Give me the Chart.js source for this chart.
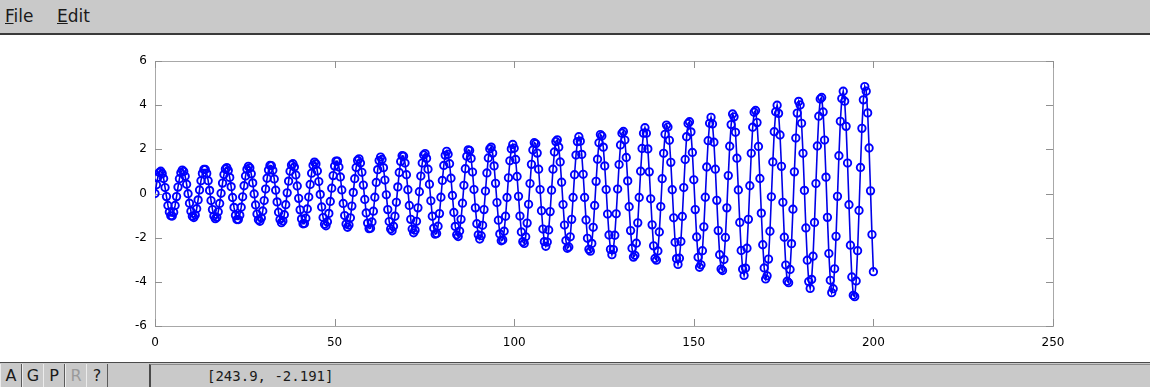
<!DOCTYPE html>
<html>
<head>
<meta charset="utf-8">
<script src="https://cdn.jsdelivr.net/npm/chart.js@4.4.0/dist/chart.umd.min.js"></script>
<style>
  html, body { margin: 0; padding: 0; }
  body {
    width: 1150px; height: 387px; position: relative; overflow: hidden;
    background: #fff; font-family: "DejaVu Sans", sans-serif;
  }
  #menubar {
    position: absolute; left: 0; top: 0; width: 1150px; height: 33px;
    background: #c9c9c9; border-bottom: 2px solid #3a3a3a;
  }
  .menu { position: absolute; top: 6px; font-size: 17px; color: #1a1a1a; }
  #plot { position: absolute; left: 0; top: 35px; width: 1150px; height: 327px; }
  #statusbar {
    position: absolute; left: 0; top: 362px; width: 1150px; height: 25px;
    background: #c9c9c9; border-top: 1px solid #4a4a4a; box-sizing: border-box;
  }
  .btn {
    position: absolute; top: 1px; height: 23px; width: 20px; text-align: center;
    font-size: 16px; line-height: 23px; color: #1a1a1a;
    border-left: 1px solid #ececec; border-right: 1px solid #5a5a5a;
  }
  .btn.off { color: #9a9a9a; }
  #coords {
    position: absolute; left: 149px; top: 1px; height: 23px; width: 1001px;
    border-left: 2px solid #4a4a4a; border-top: 1px solid #8a8a8a;
    font-family: "DejaVu Sans Mono", monospace; font-size: 14px; line-height: 23px;
    color: #1a1a1a; box-sizing: border-box; padding-left: 56px;
  }
</style>
</head>
<body>
<div id="menubar">
  <span class="menu" style="left:5px"><u>F</u>ile</span>
  <span class="menu" style="left:57px"><u>E</u>dit</span>
</div>
<div id="plot"><canvas id="chart" width="1150" height="327"></canvas></div>
<div id="statusbar">
  <div class="btn" style="left:0px">A</div>
  <div class="btn" style="left:22px">G</div>
  <div class="btn" style="left:43px">P</div>
  <div class="btn off" style="left:65px">R</div>
  <div class="btn" style="left:86px">?</div>
  <div id="coords">[243.9, -2.191]</div>
</div>
<script>
// sample spacing along x
const X_START = 0;
const X_STEP = 0.4;

// y value of every sample (501 samples, x = 0 .. 200)
const yValues = [
  0, 0.40, 0.74, 0.95, 1.01, 0.90, 0.68, 0.27, -0.14, -0.54, -0.84, -1.01, -1.02, -0.85, -0.54,
  -0.14, 0.29, 0.67, 0.94, 1.06, 1.00, 0.78, 0.42, -0.01, -0.44, -0.80, -1.03, -1.09, -0.97, -0.69,
  -0.29, 0.16, 0.58, 0.91, 1.09, 1.09, 0.91, 0.58, 0.14, -0.32, -0.73, -1.02, -1.14, -1.08, -0.83,
  -0.45, 0.01, 0.47, 0.86, 1.11, 1.17, 1.04, 0.73, 0.31, -0.18, -0.63, -0.99, -1.18, -1.18, -0.98,
  -0.62, -0.15, 0.35, 0.79, 1.10, 1.23, 1.16, 0.89, 0.48, -0.02, -0.52, -0.93, -1.19, -1.26, -1.11,
  -0.79, -0.32, 0.20, 0.69, 1.06, 1.27, 1.26, 1.05, 0.66, 0.15, -0.38, -0.85, -1.18, -1.32, -1.24,
  -0.96, -0.51, 0.03, 0.56, 1.01, 1.29, 1.35, 1.20, 0.84, 0.34, -0.22, -0.74, -1.15, -1.37, -1.36,
  -1.12, -0.70, -0.16, 0.41, 0.92, 1.28, 1.42, 1.34, 1.02, 0.54, -0.04, -0.61, -1.09, -1.39, -1.46,
  -1.28, -0.90, -0.36, 0.24, 0.81, 1.24, 1.47, 1.46, 1.20, 0.75, 0.16, -0.45, -1.00, -1.38, -1.53,
  -1.43, -1.10, -0.57, 0.05, 0.67, 1.18, 1.50, 1.57, 1.38, 0.96, 0.38, -0.27, -0.88, -1.34, -1.59,
  -1.57, -1.29, -0.80, -0.17, 0.50, 1.08, 1.49, 1.65, 1.54, 1.17, 0.61, -0.06, -0.73, -1.27, -1.61,
  -1.69, -1.48, -1.03, -0.40, 0.30, 0.95, 1.45, 1.71, 1.69, 1.38, 0.85, 0.17, -0.54, -1.17, -1.61,
  -1.78, -1.66, -1.26, -0.65, 0.08, 0.79, 1.38, 1.74, 1.81, 1.59, 1.10, 0.42, -0.33, -1.03, -1.57,
  -1.84, -1.81, -1.48, -0.91, -0.17, 0.59, 1.27, 1.73, 1.91, 1.78, 1.35, 0.69, -0.09, -0.86, -1.49,
  -1.87, -1.95, -1.70, -1.17, -0.44, 0.37, 1.12, 1.69, 1.98, 1.95, 1.59, 0.97, 0.18, -0.65, -1.37,
  -1.87, -2.06, -1.91, -1.44, -0.73, 0.11, 0.93, 1.61, 2.02, 2.10, 1.83, 1.25, 0.46, -0.41, -1.21,
  -1.83, -2.14, -2.10, -1.71, -1.03, -0.18, 0.71, 1.48, 2.02, 2.22, 2.05, 1.54, 0.77, -0.13, -1.02,
  -1.74, -2.18, -2.26, -1.96, -1.34, -0.49, 0.45, 1.32, 1.97, 2.30, 2.25, 1.83, 1.10, 0.18, -0.78,
  -1.61, -2.18, -2.39, -2.20, -1.65, -0.82, 0.15, 1.10, 1.88, 2.35, 2.43, 2.10, 1.43, 0.51, -0.50,
  -1.43, -2.13, -2.48, -2.42, -1.96, -1.17, -0.18, 0.85, 1.74, 2.35, 2.57, 2.37, 1.77, 0.87, -0.18,
  -1.20, -2.03, -2.53, -2.61, -2.26, -1.53, -0.54, 0.55, 1.55, 2.30, 2.67, 2.60, 2.10, 1.25, 0.18,
  -0.93, -1.88, -2.53, -2.77, -2.54, -1.89, -0.92, 0.20, 1.31, 2.20, 2.73, 2.81, 2.42, 1.63, 0.57,
  -0.60, -1.68, -2.48, -2.88, -2.80, -2.25, -1.33, -0.18, 1.01, 2.04, 2.73, 2.98, 2.73, 2.02, 0.98,
  -0.24, -1.42, -2.37, -2.94, -3.02, -2.60, -1.74, -0.59, 0.67, 1.82, 2.68, 3.10, 3.01, 2.41, 1.41,
  0.17, -1.10, -2.21, -2.95, -3.21, -2.93, -2.17, -1.04, 0.27, 1.54, 2.57, 3.17, 3.25, 2.79, 1.86,
  0.62, -0.73, -1.97, -2.89, -3.34, -3.23, -2.59, -1.51, -0.17, 1.20, 2.39, 3.18, 3.45, 3.15, 2.32,
  1.10, -0.31, -1.68, -2.77, -3.42, -3.49, -2.99, -1.99, -0.65, 0.81, 2.14, 3.12, 3.60, 3.47, 2.77,
  1.60, 0.16, -1.31, -2.58, -3.43, -3.71, -3.38, -2.48, -1.17, 0.35, 1.82, 3.00, 3.68, 3.76, 3.21,
  2.13, 0.68, -0.89, -2.32, -3.37, -3.87, -3.73, -2.97, -1.71, -0.15, 1.43, 2.80, 3.70, 4.00, 3.63,
  2.65, 1.23, -0.40, -1.98, -3.24, -3.97, -4.04, -3.44, -2.27, -0.71, 0.98, 2.51, 3.64, 4.17, 4.01,
  3.18, 1.82, 0.14, -1.56, -3.02, -3.99, -4.30, -3.89, -2.84, -1.31, 0.45, 2.15, 3.50, 4.28, 4.35,
  3.69, 2.42, 0.74, -1.08, -2.72, -3.93, -4.49, -4.31, -3.41, -1.94, -0.13, 1.71, 3.27, 4.30, 4.63,
  4.18, 3.04, 1.38, -0.51, -2.34, -3.78, -4.61, -4.67, -3.96, -2.59, -0.77, 1.18, 2.95, 4.24, 4.84,
  4.63, 3.65, 2.06, 0.12, -1.86, -3.54
];

// axis ticks
const xTicks = [0, 50, 100, 150, 200, 250];
const yTicks = [-6, -4, -2, 0, 2, 4, 6];

const TICK_LEN = 7;

// box around the axes with inward tick marks on all four sides
const framePlugin = {
  id: 'frame',
  beforeDatasetsDraw(chart) {
    const { ctx, chartArea: a, scales: { x, y } } = chart;
    ctx.save();
    ctx.strokeStyle = '#a8a8a8';
    ctx.lineWidth = 1;
    ctx.strokeRect(a.left + 0.5, a.top + 0.5, a.right - a.left, a.bottom - a.top);
    ctx.strokeStyle = '#909090';
    ctx.beginPath();
    xTicks.forEach(v => {
      const px = Math.round(x.getPixelForValue(v)) + 0.5;
      ctx.moveTo(px, a.bottom); ctx.lineTo(px, a.bottom - TICK_LEN);
      ctx.moveTo(px, a.top); ctx.lineTo(px, a.top + TICK_LEN);
    });
    yTicks.forEach(v => {
      const py = Math.round(y.getPixelForValue(v)) + 0.5;
      ctx.moveTo(a.left, py); ctx.lineTo(a.left + TICK_LEN, py);
      ctx.moveTo(a.right, py); ctx.lineTo(a.right - TICK_LEN, py);
    });
    ctx.stroke();
    ctx.restore();
  }
};

const points = yValues.map((v, i) => ({ x: X_START + i * X_STEP, y: v }));

const tickFont = { family: '"DejaVu Sans", sans-serif', size: 12 };

new Chart(document.getElementById('chart'), {
  type: 'scatter',
  data: {
    datasets: [{
      data: points,
      showLine: true,
      borderColor: '#0000e8',
      borderWidth: 1.6,
      pointRadius: 3.7,
      pointStyle: 'circle',
      pointBorderColor: '#0000ff',
      pointBackgroundColor: 'rgba(0,0,0,0)',
      pointBorderWidth: 1.9,
      tension: 0
    }]
  },
  options: {
    responsive: false,
    animation: false,
    events: [],
    layout: { padding: { left: 0, top: 26, right: 97, bottom: 0 } },
    plugins: {
      legend: { display: false },
      tooltip: { enabled: false }
    },
    scales: {
      x: {
        type: 'linear',
        min: 0,
        max: 250,
        afterBuildTicks: s => { s.ticks = xTicks.map(v => ({ value: v })); },
        afterFit: s => { s.height = 36; },
        grid: { display: false, drawTicks: false },
        border: { display: false },
        ticks: { color: '#000', font: tickFont, padding: 10, maxRotation: 0 }
      },
      y: {
        type: 'linear',
        min: -6,
        max: 6,
        afterBuildTicks: s => { s.ticks = yTicks.map(v => ({ value: v })); },
        afterFit: s => { s.width = 155; },
        grid: { display: false, drawTicks: false },
        border: { display: false },
        ticks: { color: '#000', font: tickFont, padding: 8 }
      }
    }
  },
  plugins: [framePlugin]
});
</script>
</body>
</html>
